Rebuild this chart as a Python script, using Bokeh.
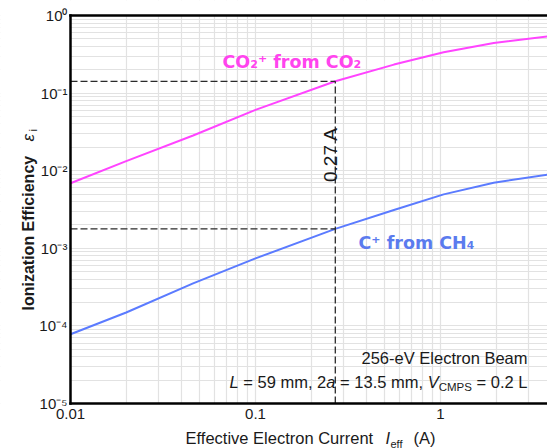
import math
from bokeh.plotting import figure
from bokeh.models import FixedTicker, Label, LogAxis
from bokeh.embed import file_html
from bokeh.resources import INLINE

# ---- data ----
current = [0.01, 0.02, 0.046, 0.1, 0.27, 0.56, 1.04, 1.94, 3.79]
co2_eff = [6.9e-3, 0.0133, 0.0284, 0.0607, 0.142, 0.233, 0.336, 0.442, 0.538]
ch4_eff = [7.8e-5, 1.49e-4, 3.53e-4, 7.41e-4, 1.78e-3, 3.12e-3, 4.95e-3, 7.0e-3, 8.9e-3]

marker_current = 0.27
co2_at_marker = 0.142
ch4_at_marker = 1.78e-3

x_major = [0.01, 0.1, 1]
x_major_labels = ["0.01", "0.1", "1"]
y_major = [1e-5, 1e-4, 1e-3, 1e-2, 1e-1, 1]
y_major_labels = ["10⁻⁵", "10⁻⁴", "10⁻³", "10⁻²", "10⁻¹", "10⁰"]

x_minor = [m * 10.0 ** e for e in range(-2, 1) for m in range(2, 10)]
y_minor = [m * 10.0 ** e for e in range(-5, 0) for m in range(2, 10)]

X_MIN, Y_MIN, Y_MAX = 0.01, 1e-5, 1.0

# ---- layout: page pixels of the plotting area ----
W, H = 547, 448
FX0, FY0, FY1 = 70, 15, 403      # plot area left, top, bottom (px)
XDEC = 185.0                     # px per decade in x
YDEC = (FY1 - FY0) / 5.0         # px per decade in y


def dx(px):
    return 10 ** (-2 + (px - FX0) / XDEC)


def dy(py):
    return 10 ** (-(py - FY0) / YDEC)


X_END = dx(W)

# the frame spans the whole canvas so that every text can be placed freely
p = figure(width=W, height=H, x_axis_type="log", y_axis_type="log",
           x_range=(dx(0), dx(W)), y_range=(dy(H), dy(0)),
           output_backend="svg", toolbar_location=None,
           min_border_left=0, min_border_right=0,
           min_border_top=0, min_border_bottom=0)
p.outline_line_color = None
p.background_fill_color = "white"
p.border_fill_color = "white"

GRID = "#e2e2e2"
for g in (p.xgrid, p.ygrid):
    g.grid_line_color = GRID
    g.grid_line_width = 1.2
    g.minor_grid_line_color = GRID
    g.minor_grid_line_width = 1.2

p.xaxis.ticker = FixedTicker(ticks=x_major, minor_ticks=x_minor)
p.yaxis.ticker = FixedTicker(ticks=y_major, minor_ticks=y_minor)
p.xaxis.major_label_overrides = dict(zip(x_major, x_major_labels))
p.yaxis.major_label_overrides = dict(zip(y_major, y_major_labels))
p.xaxis.fixed_location = Y_MIN
p.yaxis.fixed_location = X_MIN
p.xaxis.bounds = (X_MIN, X_END)
p.yaxis.bounds = (Y_MIN, Y_MAX)

for ax in (p.xaxis[0], p.yaxis[0]):
    ax.axis_line_width = 2.5
    ax.axis_line_color = "black"
    ax.axis_line_cap = "square"
    ax.major_tick_out = 0
    ax.major_tick_in = 0
    ax.minor_tick_out = 0
    ax.minor_tick_in = 0
    ax.major_label_text_font = "Liberation Sans"
    ax.major_label_text_font_size = "15px"
    ax.major_label_text_color = "#1a1a1a"
p.xaxis.major_label_standoff = 5
p.yaxis.major_label_standoff = 3

top = LogAxis(ticker=FixedTicker(ticks=[]), fixed_location=Y_MAX, bounds=(X_MIN, X_END),
              axis_line_width=2.5, axis_line_color="black", axis_line_cap="square",
              major_tick_out=0, major_tick_in=0, minor_tick_out=0, minor_tick_in=0,
              major_label_text_font_size="0px", major_label_standoff=0)
p.add_layout(top, "above")

# white margins outside the plotting area (hide grid lines there)
p.quad(left=[dx(0)], right=[X_MIN], bottom=[dy(H)], top=[dy(0)],
       fill_color="white", line_color=None)
p.quad(left=[dx(0)], right=[X_END], bottom=[dy(H)], top=[Y_MIN],
       fill_color="white", line_color=None)
p.quad(left=[dx(0)], right=[X_END], bottom=[Y_MAX], top=[dy(0)],
       fill_color="white", line_color=None)

# curves
p.line(current, co2_eff, line_color="#ff44ff", line_width=2)
p.line(current, ch4_eff, line_color="#5b7bff", line_width=2)

# dashed guide lines
DASH = dict(line_color="#2a2a2a", line_width=1.3, line_dash="7 3")
p.line([X_MIN, marker_current], [co2_at_marker, co2_at_marker], **DASH)
p.line([X_MIN, marker_current], [ch4_at_marker, ch4_at_marker], **DASH)
p.line([marker_current, marker_current], [Y_MIN, co2_at_marker], **DASH)


def add_text(px, py, text, size, color="#1a1a1a", font="Liberation Sans",
             style="normal", align="left", angle=0.0):
    p.add_layout(Label(x=dx(px), y=dy(py), text=text, text_font=font,
                       text_font_size=f"{size}px", text_font_style=style,
                       text_color=color, text_align=align,
                       text_baseline="alphabetic", angle=angle))


# series labels
add_text(222, 61, "CO₂⁺ from CO₂", 17.5, color="#ff44ee", font="DejaVu Sans", style="bold")
add_text(358, 242.5, "C⁺ from CH₄", 17.5, color="#5b7bee", font="DejaVu Sans", style="bold")

# marker label
add_text(329.5, 181.5, "0.27 A", 19, angle=math.pi / 2)

# beam annotation
add_text(527, 357, "256-eV Electron Beam", 16.5, align="right")
add_text(229, 381, "L", 16.5, style="italic")
add_text(242.8, 381, "= 59 mm, 2", 16.5)
add_text(325.8, 381, "a", 16.5, style="italic")
add_text(339.6, 381, "= 13.5 mm,", 16.5)
add_text(427.2, 381, "V", 16.5, style="italic")
add_text(438.2, 386, "CMPS", 11.5)
add_text(476.0, 381, "= 0.2 L", 16.5)

# x axis title
add_text(185, 437, "Effective Electron Current", 16.5)
add_text(385, 437, "I", 16.5, style="italic")
add_text(390, 443, "eff", 11)
add_text(413, 437, "(A)", 16.5)

# y axis title
add_text(28, 310, "Ionization Efficiency", 16, style="bold", angle=math.pi / 2)
add_text(28, 141, "ε", 17, style="italic", angle=math.pi / 2)
add_text(32, 131, "i", 11, angle=math.pi / 2)

open("out.html", "w").write(file_html(p, INLINE))
